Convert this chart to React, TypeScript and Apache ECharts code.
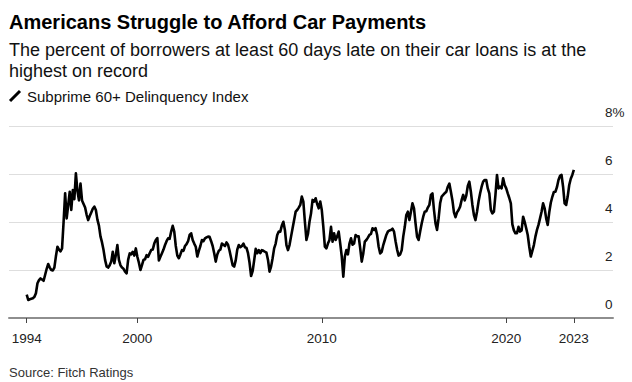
import React, { useEffect, useRef } from 'react';
import * as echarts from 'echarts';

const FONT = "'Liberation Sans', Arial, Helvetica, sans-serif";

const titleText = 'Americans Struggle to Afford Car Payments';
const subtitleLines = [
  'The percent of borrowers at least 60 days late on their car loans is at the',
  'highest on record',
];
const seriesName = 'Subprime 60+ Delinquency Index';
const sourceText = 'Source: Fitch Ratings';

const startYear = 1994;
// Monthly values (%), Jan 1994 – Sep 2023
const y1994 = [0.97, 0.75, 0.78, 0.8, 0.82, 0.88, 1.03, 1.45, 1.58, 1.65, 1.6, 1.55];
const y1995 = [1.8, 2.05, 2.25, 2.1, 2.0, 1.98, 2.1, 2.57, 2.97, 2.85, 2.78, 2.9];
const y1996 = [4.0, 5.2, 4.15, 4.7, 5.26, 4.5, 5.33, 4.95, 6.03, 5.3, 4.9, 5.6];
const y1997 = [4.9, 4.75, 4.6, 4.3, 4.08, 4.25, 4.4, 4.55, 4.64, 4.5, 4.1, 3.85];
const y1998 = [3.4, 3.15, 2.83, 2.42, 2.15, 2.1, 2.2, 2.35, 2.76, 2.28, 2.62, 3.04];
const y1999 = [2.42, 2.2, 2.1, 2.05, 1.93, 1.86, 2.42, 2.69, 2.65, 2.76, 2.6, 2.9];
const y2000 = [2.55, 2.3, 2.0, 2.2, 2.42, 2.45, 2.62, 2.55, 2.7, 2.83, 2.85, 3.1];
const y2001 = [3.25, 3.33, 2.4, 2.55, 2.7, 2.85, 3.04, 3.2, 3.32, 3.3, 3.6, 3.84];
const y2002 = [3.6, 3.0, 2.6, 2.49, 2.65, 2.83, 2.8, 3.0, 3.08, 3.2, 3.46, 3.53];
const y2003 = [3.25, 3.1, 2.97, 2.56, 2.8, 3.0, 3.25, 3.2, 3.32, 3.36, 3.39, 3.38];
const y2004 = [3.2, 3.0, 2.7, 2.35, 2.65, 2.8, 2.85, 3.1, 3.05, 3.0, 3.15, 3.05];
const y2005 = [2.8, 2.5, 2.2, 2.14, 2.4, 2.85, 3.04, 2.95, 3.0, 3.1, 2.95, 2.92];
const y2006 = [2.7, 2.3, 1.75, 1.95, 2.4, 2.88, 2.7, 2.83, 2.7, 2.83, 2.8, 2.76];
const y2007 = [2.72, 2.42, 1.93, 2.14, 2.49, 2.9, 3.1, 3.46, 3.6, 3.6, 3.85, 4.01];
const y2008 = [3.67, 3.04, 2.83, 3.04, 3.39, 3.74, 4.08, 4.43, 4.5, 4.6, 4.71, 5.06];
const y2009 = [4.85, 4.01, 3.25, 3.5, 4.01, 4.36, 4.92, 4.85, 4.99, 4.75, 4.57, 4.85];
const y2010 = [4.5, 3.8, 2.97, 2.9, 3.1, 3.25, 3.8, 3.18, 3.53, 3.25, 3.4, 3.6];
const y2011 = [3.1, 2.56, 1.72, 2.56, 2.83, 2.65, 3.1, 3.32, 3.05, 3.1, 3.46, 3.4];
const y2012 = [3.4, 2.9, 2.35, 2.69, 3.18, 3.25, 3.35, 3.46, 3.5, 3.74, 3.67, 3.74];
const y2013 = [3.46, 2.97, 2.69, 2.76, 3.04, 3.25, 3.46, 3.6, 3.65, 3.67, 3.72, 3.6];
const y2014 = [3.2, 2.85, 2.6, 2.65, 2.83, 3.39, 3.8, 4.29, 4.43, 4.08, 4.43, 4.78];
const y2015 = [4.57, 3.94, 3.39, 3.25, 3.6, 3.94, 4.22, 4.43, 4.45, 4.6, 4.71, 5.13];
const y2016 = [5.19, 4.5, 3.94, 3.67, 4.15, 4.78, 5.06, 5.13, 5.2, 5.26, 5.47, 5.6];
const y2017 = [5.26, 4.9, 4.4, 4.2, 4.4, 4.5, 4.64, 4.92, 5.13, 4.9, 5.1, 5.5];
const y2018 = [5.68, 5.26, 4.71, 4.29, 4.08, 4.43, 4.85, 5.19, 5.47, 5.68, 5.75, 5.75];
const y2019 = [5.4, 5.19, 4.5, 4.36, 4.43, 5.13, 5.96, 5.4, 5.47, 5.4, 5.82, 5.54];
const y2020 = [5.4, 5.19, 5.0, 4.78, 3.9, 3.65, 3.53, 3.53, 3.8, 3.6, 3.65, 4.22];
const y2021 = [4.01, 3.74, 3.46, 2.97, 2.56, 2.8, 3.04, 3.39, 3.67, 3.88, 4.15, 4.43];
const y2022 = [4.78, 4.57, 4.15, 3.88, 4.4, 4.8, 5.05, 5.25, 5.26, 5.45, 5.75, 5.92];
const y2023 = [5.96, 5.47, 4.78, 4.71, 5.06, 5.54, 5.8, 5.96, 6.17];

const delinquency = [
  ...y1994, ...y1995, ...y1996, ...y1997, ...y1998, ...y1999, ...y2000, ...y2001,
  ...y2002, ...y2003, ...y2004, ...y2005, ...y2006, ...y2007, ...y2008, ...y2009,
  ...y2010, ...y2011, ...y2012, ...y2013, ...y2014, ...y2015, ...y2016, ...y2017,
  ...y2018, ...y2019, ...y2020, ...y2021, ...y2022, ...y2023,
];

const xTickLabels = ['1994', '2000', '2010', '2020', '2023'];
const yTickValues = [0, 2, 4, 6, 8];

export default function App() {
  const ref = useRef<HTMLDivElement>(null);

  useEffect(() => {
    document.body.style.margin = '0';
    if (!ref.current) return;
    const chart = echarts.init(ref.current, null, { renderer: 'svg' });

    const points = delinquency.map((v, i) => [startYear + i / 12, v]);
    const lastX = startYear + (delinquency.length - 1) / 12;
    const xTickValues = [1994, 2000, 2010, 2020, lastX];
    const labelFor = (v: number) => {
      let best = 0;
      for (let i = 0; i < xTickValues.length; i++) {
        if (Math.abs(xTickValues[i] - v) < Math.abs(xTickValues[best] - v)) best = i;
      }
      return xTickLabels[best];
    };

    chart.setOption({
      animation: false,
      textStyle: { fontFamily: FONT },
      grid: { left: 9, right: 19, top: 126, bottom: 64, containLabel: false, outerBoundsMode: 'none' },
      xAxis: {
        type: 'value',
        min: 1993.04,
        max: 2025.79,
        axisLine: { show: true, onZero: false, lineStyle: { color: '#8e8e8e', width: 2 } },
        axisTick: {
          show: true,
          customValues: xTickValues,
          length: 5,
          lineStyle: { color: '#444', width: 1 },
        },
        axisLabel: {
          customValues: xTickValues,
          formatter: (v: number) => labelFor(v),
          margin: 13,
          fontSize: 13.5,
          color: '#222',
          fontFamily: FONT,
        },
        splitLine: { show: false },
      },
      yAxis: {
        type: 'value',
        position: 'right',
        min: yTickValues[0],
        max: yTickValues[yTickValues.length - 1],
        interval: 2,
        axisLine: { show: false },
        axisTick: { show: false },
        splitLine: { show: true, lineStyle: { color: '#dedede', width: 1 } },
        axisLabel: {
          inside: true,
          align: 'left',
          margin: 8,
          verticalAlign: 'bottom',
          lineHeight: 14,
          padding: [0, 0, 7, 0],
          fontSize: 13.5,
          color: '#222',
          fontFamily: FONT,
          formatter: (v: number) => (v === 8 ? '8%' : String(v)),
        },
      },
      series: [
        {
          name: seriesName,
          type: 'line',
          data: points,
          showSymbol: false,
          symbol: 'none',
          lineStyle: { color: '#000', width: 2.6, join: 'round' },
          z: 5,
        },
      ],
      graphic: [
        {
          type: 'text',
          x: 9,
          y: 22,
          style: {
            text: titleText,
            fontSize: 20,
            fontWeight: 'bold',
            fontFamily: FONT,
            fill: '#000',
            verticalAlign: 'middle',
          },
        },
        {
          type: 'text',
          x: 9,
          y: 50,
          style: {
            text: subtitleLines[0],
            fontSize: 18,
            fontFamily: FONT,
            fill: '#111',
            verticalAlign: 'middle',
          },
        },
        {
          type: 'text',
          x: 9,
          y: 71,
          style: {
            text: subtitleLines[1],
            fontSize: 18,
            fontFamily: FONT,
            fill: '#111',
            verticalAlign: 'middle',
          },
        },
        {
          type: 'line',
          shape: { x1: 10, y1: 101, x2: 20, y2: 91 },
          style: { stroke: '#000', lineWidth: 3 },
        },
        {
          type: 'text',
          x: 27,
          y: 96,
          style: {
            text: seriesName,
            fontSize: 15,
            fontFamily: FONT,
            fill: '#111',
            verticalAlign: 'middle',
          },
        },
        {
          type: 'text',
          x: 9,
          y: 372,
          style: {
            text: sourceText,
            fontSize: 13,
            fontFamily: FONT,
            fill: '#333',
            verticalAlign: 'middle',
          },
        },
      ],
    });

    return () => chart.dispose();
  }, []);

  return <div ref={ref} style={{ width: 632, height: 382 }} />;
}
